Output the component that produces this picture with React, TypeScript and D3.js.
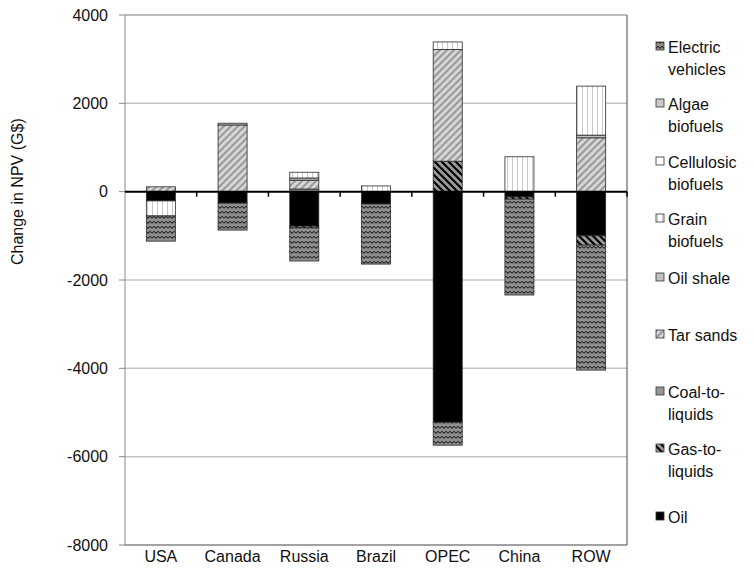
import React from "react";
import * as d3 from "d3";

// regions on the x axis
const countries = ["USA", "Canada", "Russia", "Brazil", "OPEC", "China", "ROW"];

// stacked series, in stacking order (G$)
const oil = [-210, -260, -780, -280, -5220, -120, -1000];
const gasToLiquids = [0, 0, -40, 0, 690, -50, -210];
const coalToLiquids = [0, 0, 60, 0, 0, 0, 0];
const tarSands = [110, 1510, 200, 0, 2530, 0, 1220];
const oilShale = [0, 40, 50, 0, 0, 0, 60];
const grainBiofuels = [-340, 0, 130, 130, 170, 790, 1110];
const cellulosicBiofuels = [0, 0, 0, 0, 0, 0, 0];
const algaeBiofuels = [0, 0, 0, 0, 0, 0, 0];
const electricVehicles = [-570, -610, -750, -1360, -520, -2170, -2830];

const seriesNames = [
  "Oil",
  "Gas-to-liquids",
  "Coal-to-liquids",
  "Tar sands",
  "Oil shale",
  "Grain biofuels",
  "Cellulosic biofuels",
  "Algae biofuels",
  "Electric vehicles",
];
const seriesValues = [
  oil,
  gasToLiquids,
  coalToLiquids,
  tarSands,
  oilShale,
  grainBiofuels,
  cellulosicBiofuels,
  algaeBiofuels,
  electricVehicles,
];

// legend labels as shown (wrapped), top to bottom
const legendLabels = [
  ["Electric", "vehicles"],
  ["Algae", "biofuels"],
  ["Cellulosic", "biofuels"],
  ["Grain", "biofuels"],
  ["Oil shale"],
  ["Tar sands"],
  ["Coal-to-", "liquids"],
  ["Gas-to-", "liquids"],
  ["Oil"],
];
const legendSeries = [8, 7, 6, 5, 4, 3, 2, 1, 0];
const legendY = [47, 104, 162, 219, 278, 335, 392, 449, 517];

const yTicks = [4000, 2000, 0, -2000, -4000, -6000, -8000];

const fills = [
  "#000000",
  "url(#gtl)",
  "#969696",
  "url(#tar)",
  "#c0c0c0",
  "url(#grain)",
  "#ffffff",
  "url(#algae)",
  "url(#ev)",
];

const FONT = "'Liberation Sans', Arial, Helvetica, sans-serif";

export default function App() {
  const W = 754;
  const H = 579;
  const left = 125;
  const right = 627;
  const top = 15;
  const bottom = 545;

  const x = d3
    .scaleBand<string>()
    .domain(countries)
    .range([left, right])
    .paddingInner(0.595)
    .paddingOuter(0.2975);
  const y = d3.scaleLinear().domain([-8000, 4000]).range([bottom, top]);

  const rows = countries.map((c, i) => {
    const r: Record<string, number | string> = { country: c };
    seriesNames.forEach((s, k) => (r[s] = seriesValues[k][i]));
    return r;
  });
  const stacked = d3
    .stack<Record<string, number | string>>()
    .keys(seriesNames)
    .value((d, key) => d[key] as number)
    .offset(d3.stackOffsetDiverging)(rows);

  const step = x.step();

  return (
    <svg width={W} height={H} style={{ position: "absolute", left: 0, top: 0 }}>
      <defs>
        <pattern id="ev" width={8} height={5} patternUnits="userSpaceOnUse">
          <rect width={8} height={5} fill="#8e8e8e" />
          <path d="M0 3.5 Q1 1.5 2 1.5 Q3 1.5 4 3.5 Q5 1.5 6 1.5 Q7 1.5 8 3.5" fill="none" stroke="#1a1a1a" strokeWidth={1} />
        </pattern>
        <pattern id="tar" width={7} height={7} patternUnits="userSpaceOnUse">
          <rect width={7} height={7} fill="#d6d6d6" />
          <path d="M-1 8 L8 -1 M-1 1 L1 -1 M6 8 L8 6" stroke="#9a9a9a" strokeWidth={2} />
        </pattern>
        <pattern id="gtl" width={7} height={7} patternUnits="userSpaceOnUse">
          <rect width={7} height={7} fill="#9a9a9a" />
          <path d="M-1 -1 L8 8 M6 -1 L8 1 M-1 6 L1 8" stroke="#000" strokeWidth={2.2} />
        </pattern>
        <pattern id="grain" width={5} height={5} patternUnits="userSpaceOnUse">
          <rect width={5} height={5} fill="#ffffff" />
          <path d="M2.5 0 L2.5 5" stroke="#c8c8c8" strokeWidth={1} />
        </pattern>
        <pattern id="algae" width={4} height={4} patternUnits="userSpaceOnUse">
          <rect width={4} height={4} fill="#d4d4d4" />
          <path d="M0 0 L4 4 M4 0 L0 4" stroke="#b0b0b0" strokeWidth={0.6} />
        </pattern>
      </defs>

      {/* gridlines */}
      {yTicks
        .filter((t) => t !== 0 && t !== 4000 && t !== -8000)
        .map((t) => (
          <line key={t} x1={left} x2={right} y1={y(t)} y2={y(t)} stroke="#c4c4c4" strokeWidth={1.5} />
        ))}

      {/* plot border */}
      <line x1={left} x2={right} y1={y(4000)} y2={y(4000)} stroke="#7a7a7a" strokeWidth={1} />
      <line x1={left} x2={right} y1={y(-8000)} y2={y(-8000)} stroke="#444" strokeWidth={1} />
      <line x1={right} x2={right} y1={top} y2={bottom} stroke="#444" strokeWidth={1} />
      <line x1={left} x2={left} y1={top} y2={bottom} stroke="#8a8a8a" strokeWidth={1} />

      {/* y ticks and labels */}
      {yTicks.map((t) => (
        <g key={t}>
          <line x1={left - 6} x2={left} y1={y(t)} y2={y(t)} stroke="#8a8a8a" strokeWidth={1} />
          <text
            x={108}
            y={y(t)}
            dy="0.35em"
            textAnchor="end"
            fontFamily={FONT}
            fontSize={16}
            fill="#111"
          >
            {t}
          </text>
        </g>
      ))}

      {/* bars */}
      {stacked.map((s, k) => (
        <g key={s.key}>
          {s.map((d, i) => {
            if (d[1] - d[0] === 0) return null;
            const c = countries[i];
            return (
              <rect
                key={c}
                x={x(c)}
                width={x.bandwidth()}
                y={y(d[1])}
                height={y(d[0]) - y(d[1])}
                fill={fills[k]}
                stroke="#2a2a2a"
                strokeWidth={0.8}
              />
            );
          })}
        </g>
      ))}

      {/* zero line with category ticks */}
      <line x1={left} x2={right} y1={y(0)} y2={y(0)} stroke="#000" strokeWidth={2} />
      {countries.map((c, i) => (
        <line
          key={c}
          x1={left + step * (i + 1)}
          x2={left + step * (i + 1)}
          y1={y(0)}
          y2={y(0) + 5}
          stroke="#000"
          strokeWidth={1.5}
        />
      ))}

      {/* x labels */}
      {countries.map((c) => (
        <text
          key={c}
          x={(x(c) as number) + x.bandwidth() / 2}
          y={562}
          textAnchor="middle"
          fontFamily={FONT}
          fontSize={16}
          fill="#111"
        >
          {c}
        </text>
      ))}

      {/* y axis title */}
      <text
        transform={`translate(23,${y(0)}) rotate(-90)`}
        textAnchor="middle"
        fontFamily={FONT}
        fontSize={16}
        fill="#111"
      >
        Change in NPV (G$)
      </text>

      {/* legend */}
      {legendLabels.map((lines, j) => {
        const k = legendSeries[j];
        const yy = legendY[j];
        return (
          <g key={seriesNames[k]}>
            <rect x={656} y={yy - 5} width={8} height={8} fill={fills[k]} stroke="#333" strokeWidth={0.8} />
            {lines.map((ln, n) => (
              <text
                key={n}
                x={668}
                y={yy + n * 22}
                dy="0.35em"
                fontFamily={FONT}
                fontSize={16}
                fill="#111"
              >
                {ln}
              </text>
            ))}
          </g>
        );
      })}
    </svg>
  );
}
